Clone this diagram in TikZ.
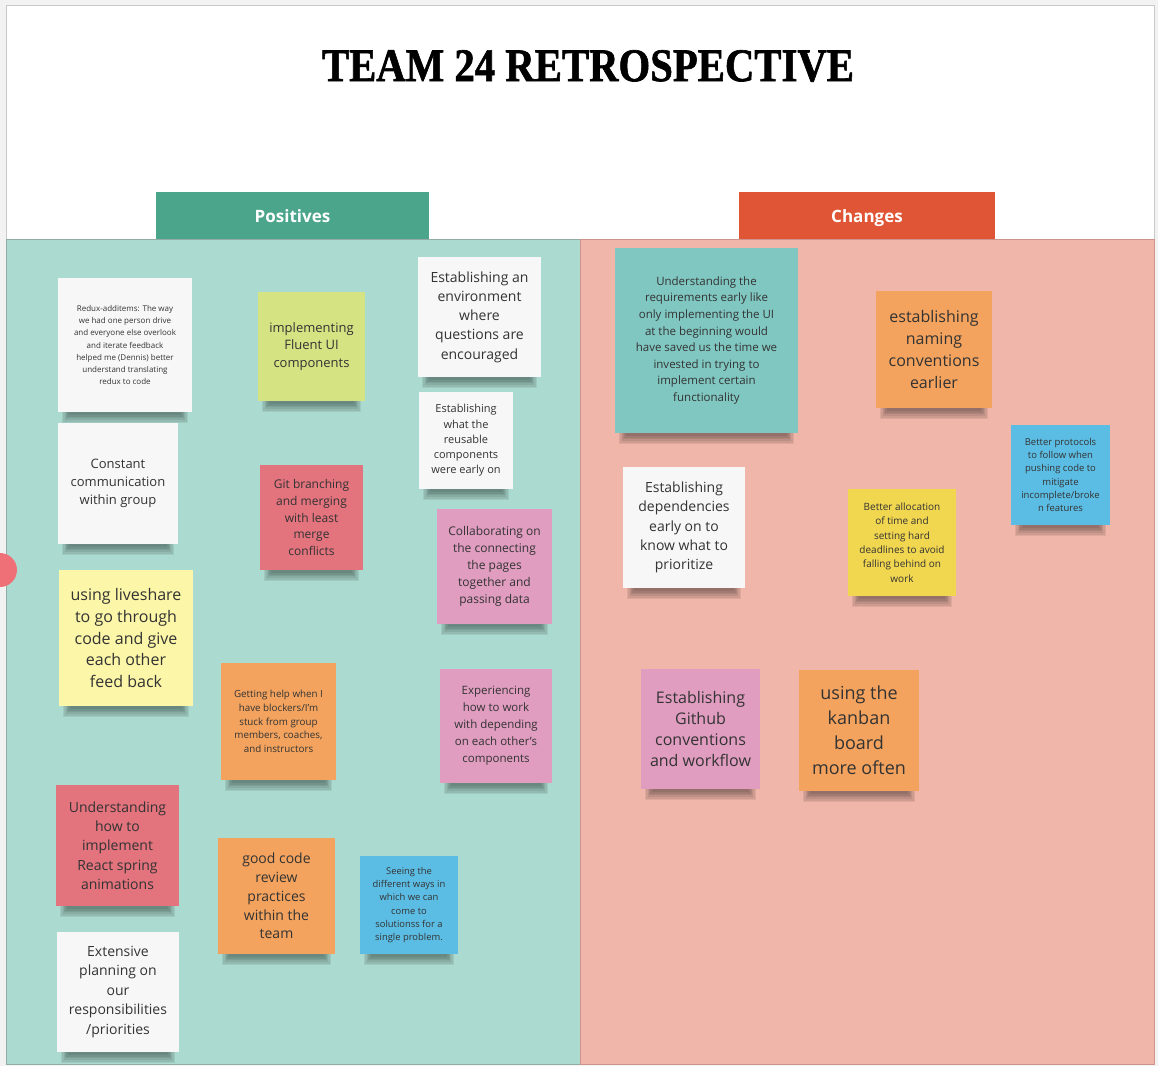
\documentclass[tikz,border=0pt]{standalone}
\usepackage{fontspec}
\usepackage{graphicx}
\setmainfont{Open Sans}
\newfontfamily\titlefont{Liberation Serif}[BoldFeatures={FakeBold=1.4}]

\definecolor{outerbg}{HTML}{F2F2F2}
\definecolor{framegray}{HTML}{C9C9C9}
\definecolor{posbar}{HTML}{4BA58A}
\definecolor{chgbar}{HTML}{E05535}
\definecolor{pospanel}{HTML}{ABDBD0}
\definecolor{chgpanel}{HTML}{F0B6A9}
\definecolor{posedge}{HTML}{94ABA5}
\definecolor{chgedge}{HTML}{CC948A}
\definecolor{dot}{HTML}{F07078}
\definecolor{ink}{HTML}{333333}
\definecolor{nwhite}{HTML}{F7F7F8}
\definecolor{nlime}{HTML}{D6E383}
\definecolor{nred}{HTML}{E3737D}
\definecolor{npink}{HTML}{E09DC0}
\definecolor{nlemon}{HTML}{FCF6A8}
\definecolor{norange}{HTML}{F3A35E}
\definecolor{nblue}{HTML}{5CBDE4}
\definecolor{nteal}{HTML}{80C7C1}
\definecolor{nyellow}{HTML}{F1D650}

\tikzset{
  sticky/.style={rectangle, inner sep=0pt, align=center, text=ink},
  curlshade/.style={fill=black, fill opacity=0.075},
  header/.style={rectangle, inner sep=0pt, text=white,
    text height=16pt, text depth=3pt,
    font=\fontsize{17}{20}\selectfont\bfseries}
}

\begin{document}
\begin{tikzpicture}[x=1pt, y=-1pt]
  \useasboundingbox (0,0) rectangle (1158,1066);

  % board background and frame
  \fill[outerbg] (0,0) rectangle (1158,1066);
  \filldraw[fill=white, draw=framegray, line width=0.8pt] (6,5) rectangle (1154,1064);

  % title
  \node (title) at (588,66) {\resizebox{532pt}{31pt}{\titlefont\bfseries TEAM 24 RETROSPECTIVE}};

  % the two columns
  \filldraw[fill=pospanel, draw=posedge, line width=0.8pt] (6,239) rectangle (580,1064);
  \filldraw[fill=chgpanel, draw=chgedge, line width=0.8pt] (580,239) rectangle (1154,1064);

  % column headers
  \node[header, fill=posbar, minimum width=273pt, minimum height=47pt] (positives) at (292.5,215.5) {Positives};
  \node[header, fill=chgbar, minimum width=256pt, minimum height=47pt] (changes) at (867,215.5) {Changes};

  % marker at the left edge
  \fill[dot] (0,570) circle (17);

  % ---------- Positives ----------
  \node[sticky, fill=nwhite, minimum width=134pt, minimum height=134pt,
        font=\fontsize{8}{12.2}\selectfont] (redux) at (125,345)
    {Redux-additems: The way\\we had one person drive\\and everyone else overlook\\and iterate feedback\\helped me (Dennis) better\\understand translating\\redux to code};

  \node[sticky, fill=nlime, minimum width=107pt, minimum height=109pt,
        font=\fontsize{13}{17.5}\selectfont] (fluent) at (311.5,346.5)
    {implementing\\Fluent UI\\components};

  \node[sticky, fill=nwhite, minimum width=123pt, minimum height=120pt,
        font=\fontsize{14}{19.3}\selectfont] (questions) at (479.5,317)
    {Establishing an\\environment\\where\\questions are\\encouraged};

  \node[sticky, fill=nwhite, minimum width=94pt, minimum height=97pt,
        font=\fontsize{11}{15.2}\selectfont] (reusable) at (466,440.5)
    {Establishing\\what the\\reusable\\components\\were early on};

  \node[sticky, fill=nwhite, minimum width=120pt, minimum height=121pt,
        font=\fontsize{13}{18}\selectfont] (communication) at (118,483.5)
    {Constant\\communication\\within group};

  \node[sticky, fill=nred, minimum width=103pt, minimum height=105pt,
        font=\fontsize{12}{16.8}\selectfont] (git) at (311.5,517.5)
    {Git branching\\and merging\\with least\\merge\\conflicts};

  \node[sticky, fill=npink, minimum width=115pt, minimum height=115pt,
        font=\fontsize{12}{17}\selectfont] (collab) at (494.5,566.5)
    {Collaborating on\\the connecting\\the pages\\together and\\passing data};

  \node[sticky, fill=nlemon, minimum width=134pt, minimum height=136pt,
        font=\fontsize{16}{21.7}\selectfont] (liveshare) at (126,638)
    {using liveshare\\to go through\\code and give\\each other\\feed back};

  \node[sticky, fill=norange, minimum width=115pt, minimum height=117pt,
        font=\fontsize{9.8}{13.7}\selectfont] (help) at (278.5,721.5)
    {Getting help when I\\have blockers/I'm\\stuck from group\\members, coaches,\\and instructors};

  \node[sticky, fill=npink, minimum width=112pt, minimum height=114pt,
        font=\fontsize{11.5}{17}\selectfont] (depending) at (496,726)
    {Experiencing\\how to work\\with depending\\on each other's\\components};

  \node[sticky, fill=nred, minimum width=123pt, minimum height=121pt,
        font=\fontsize{14}{19.3}\selectfont] (spring) at (117.5,845.5)
    {Understanding\\how to\\implement\\React spring\\animations};

  \node[sticky, fill=norange, minimum width=117pt, minimum height=116pt,
        font=\fontsize{14}{18.8}\selectfont] (review) at (276.5,896)
    {good code\\review\\practices\\within the\\team};

  \node[sticky, fill=nblue, minimum width=98pt, minimum height=98pt,
        font=\fontsize{9.4}{13.2}\selectfont] (ways) at (409,905)
    {Seeing the\\different ways in\\which we can\\come to\\solutionss for a\\single problem.};

  \node[sticky, fill=nwhite, minimum width=122pt, minimum height=120pt,
        font=\fontsize{14}{19.5}\selectfont] (planning) at (118,992)
    {Extensive\\planning on\\our\\responsibilities\\/priorities};

  % ---------- Changes ----------
  \node[sticky, fill=nteal, minimum width=183pt, minimum height=185pt,
        font=\fontsize{11.5}{16.6}\selectfont] (requirements) at (706.5,340.5)
    {Understanding the\\requirements early like\\only implementing the UI\\at the beginning would\\have saved us the time we\\invested in trying to\\implement certain\\functionality};

  \node[sticky, fill=norange, minimum width=116pt, minimum height=117pt,
        font=\fontsize{16}{22.3}\selectfont] (naming) at (934,349.5)
    {establishing\\naming\\conventions\\earlier};

  \node[sticky, fill=nblue, minimum width=99pt, minimum height=100pt,
        font=\fontsize{9.5}{13.2}\selectfont] (protocols) at (1060.5,475)
    {Better protocols\\to follow when\\pushing code to\\mitigate\\incomplete/broke\\n features};

  \node[sticky, fill=nwhite, minimum width=122pt, minimum height=121pt,
        font=\fontsize{14}{19.3}\selectfont] (dependencies) at (684,527.5)
    {Establishing\\dependencies\\early on to\\know what to\\prioritize};

  \node[sticky, fill=nyellow, minimum width=108pt, minimum height=107pt,
        font=\fontsize{10}{14.4}\selectfont] (allocation) at (902,542.5)
    {Better allocation\\of time and\\setting hard\\deadlines to avoid\\falling behind on\\work};

  \node[sticky, fill=npink, minimum width=119pt, minimum height=120pt,
        font=\fontsize{16}{21}\selectfont] (github) at (700.5,729)
    {Establishing\\Github\\conventions\\and workflow};

  \node[sticky, fill=norange, minimum width=120pt, minimum height=121pt,
        font=\fontsize{18}{25}\selectfont] (kanban) at (859,730.5)
    {using the\\kanban\\board\\more often};

  % soft curl shadows under the bottom edge of every note
  \foreach \n in {redux,fluent,questions,reusable,communication,git,collab,
                  liveshare,help,depending,spring,review,ways,planning,
                  requirements,naming,protocols,dependencies,allocation,github,kanban}{
    \foreach \k in {0,...,5}{
      \fill[curlshade]
        ([xshift={4pt+\k*1.4pt}]\n.south west) rectangle
        ([xshift={-4pt-\k*1.4pt}, yshift={-11pt+\k*1.6pt}]\n.south east);
    }
  }
\end{tikzpicture}
\end{document}
